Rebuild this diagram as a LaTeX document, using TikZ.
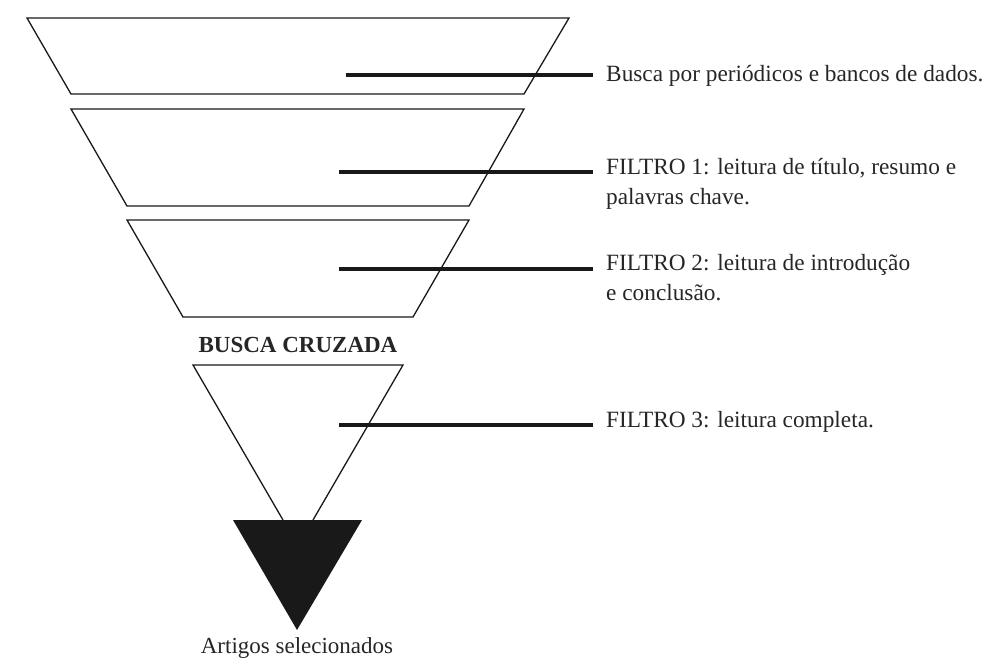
\documentclass[tikz,border=0pt]{standalone}
\usepackage{fontspec}
\setmainfont{Liberation Serif}
\begin{document}
\begin{tikzpicture}[x=1pt,y=-1pt,
  funnel/.style={draw=black!90,line width=1.3pt,line join=miter,fill=white},
  leader/.style={draw=black!90,line width=3.6pt},
  label/.style={anchor=base west,inner sep=0pt,font=\fontsize{23.3}{30}\selectfont,align=left,text=black!85},
  caption/.style={anchor=base,inner sep=0pt,font=\fontsize{23}{29}\selectfont,text=black!85}]
\useasboundingbox (0,0) rectangle (992,657);
% funnel stages
\draw[funnel] (27,18) -- (569,18) -- (524,94) -- (71,94) -- cycle;
\draw[funnel] (71,109) -- (524,109) -- (469,206) -- (127,206) -- cycle;
\draw[funnel] (127,220) -- (469,220) -- (413,317) -- (183,317) -- cycle;
\draw[funnel] (283,520) -- (193,365) -- (403,365) -- (313,520);
\fill[black!90] (233,520) -- (362,520) -- (297,630) -- cycle;
% leader end points
\coordinate (s1) at (346,75);  \coordinate (e1) at (593,75);
\coordinate (s2) at (339,172); \coordinate (e2) at (593,172);
\coordinate (s3) at (339,269); \coordinate (e3) at (593,269);
\coordinate (s4) at (339,425); \coordinate (e4) at (593,425);
\draw[leader] (s1) -- (e1);
\draw[leader] (s2) -- (e2);
\draw[leader] (s3) -- (e3);
\draw[leader] (s4) -- (e4);
% labels (multi-line nodes: base = baseline of last line)
\node[label] (t1) at (606,81) {Busca por periódicos e bancos de dados.};
\node[label] (t2) at (606,204) {FILTRO 1: leitura de título, resumo e\\palavras chave.};
\node[label] (t3) at (606,300) {FILTRO 2: leitura de introdução\\e conclusão.};
\node[label] (t4) at (606,427) {FILTRO 3: leitura completa.};
\node[caption,font=\fontsize{23}{29}\selectfont\bfseries] (bc) at (298,352) {BUSCA CRUZADA};
\node[caption] (art) at (297,653) {Artigos selecionados};
\end{tikzpicture}
\end{document}
